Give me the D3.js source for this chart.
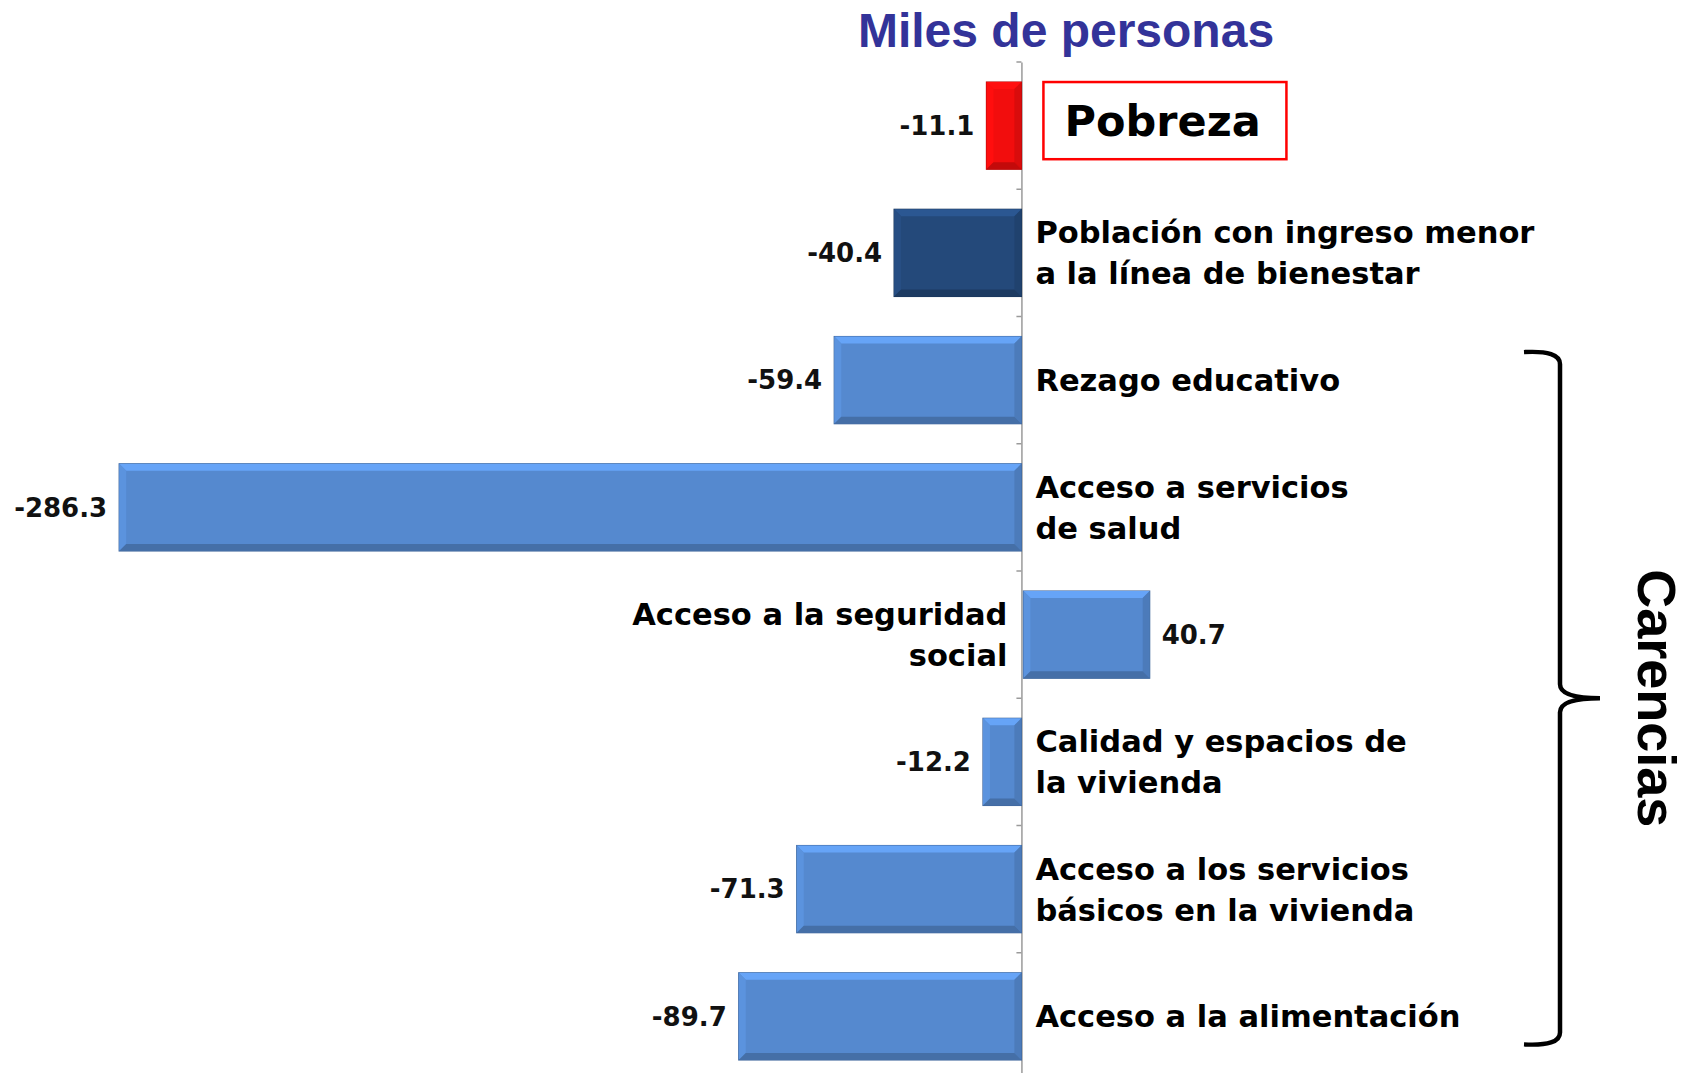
<!DOCTYPE html>
<html>
<head>
<meta charset="utf-8">
<script src="https://cdn.jsdelivr.net/npm/d3@7"></script>
<style>
  body { margin: 0; background: #fff; }
  svg text { font-family: "DejaVu Sans", Verdana, sans-serif; font-weight: bold; }
</style>
</head>
<body>
<svg id="chart"></svg>
<script>
var w = 1689, h = 1073;

// Data (miles de personas)
var categories = ['pobreza', 'bienestar', 'educativo', 'salud', 'seguridad', 'calidad', 'basicos', 'alimentacion'];
var values = [-11.1, -40.4, -59.4, -286.3, 40.7, -12.2, -71.3, -89.7];
var labelLines = [
  ['Pobreza'],
  ['Población con ingreso menor', 'a la línea de bienestar'],
  ['Rezago educativo'],
  ['Acceso a servicios', 'de salud'],
  ['Acceso a  la seguridad', 'social'],
  ['Calidad y espacios de', 'la vivienda'],
  ['Acceso a los servicios', 'básicos en la vivienda'],
  ['Acceso a la alimentación']
];
var barColors = ['#f20d0d', '#24497a', '#5589cf', '#5589cf', '#5589cf', '#5589cf', '#5589cf', '#5589cf'];

var rows = categories.map(function(c, i){
  return {key: c, value: values[i], lines: labelLines[i], color: barColors[i]};
});

var fmt = d3.formatLocale({decimal: '.', thousands: ',', grouping: [3], currency: ['$', ''], minus: '-'}).format('.1f');

var x = d3.scaleLinear().domain([-300, 50]).range([76, 1179]);
var y = d3.scaleBand().domain(categories).range([62, 1080]).paddingInner(0.315).paddingOuter(0.1575);

var svg = d3.select('#chart').attr('width', w).attr('height', h);

// Title
svg.append('text')
  .attr('x', 1066).attr('y', 47)
  .attr('text-anchor', 'middle')
  .style('font-family', '"Liberation Sans", Arial, sans-serif')
  .style('font-size', '48px')
  .attr('fill', '#333399')
  .text('Miles de personas');

// Vertical axis at zero with ticks between categories
var axis = svg.append('g')
  .attr('transform', 'translate(' + x(0) + ',0)')
  .call(d3.axisLeft(y).tickSize(0).tickFormat(''));
axis.select('.domain').attr('stroke', '#9a9a9a').attr('stroke-width', 1.5);

var bounds = categories.map(function(c){ return y(c) - y.step() * y.paddingInner() / 2; });
svg.selectAll('line.tick-b')
  .data(bounds)
  .enter()
  .append('line')
  .attr('class', 'tick-b')
  .attr('x1', x(0) - 5).attr('x2', x(0))
  .attr('y1', function(d){return d;}).attr('y2', function(d){return d;})
  .attr('stroke', '#9a9a9a').attr('stroke-width', 1.5);

// Bars with a bevel look
var bev = 7;
var bars = svg.selectAll('g.bar')
  .data(rows)
  .enter()
  .append('g')
  .attr('class', 'bar')
  .attr('transform', function(d){
    var x0 = d.value < 0 ? x(d.value) : x(0) + 2;
    return 'translate(' + x0 + ',' + y(d.key) + ')';
  });

bars.each(function(d){
  var g = d3.select(this);
  var bw = Math.abs(x(d.value) - x(0)) - (d.value < 0 ? 0 : 2);
  var bh = y.bandwidth();
  var c = d3.color(d.color);
  g.append('rect').attr('width', bw).attr('height', bh).attr('fill', d.color)
    .attr('stroke', c.darker(0.8)).attr('stroke-width', 1.2);
  var b = Math.min(bev, bw / 2);
  var polys = [
    {pts: [[0,0],[bw,0],[bw-b,b],[b,b]], col: c.brighter(0.5)},
    {pts: [[0,0],[b,b],[b,bh-b],[0,bh]], col: c.brighter(0.2)},
    {pts: [[bw,0],[bw,bh],[bw-b,bh-b],[bw-b,b]], col: c.darker(0.3)},
    {pts: [[0,bh],[b,bh-b],[bw-b,bh-b],[bw,bh]], col: c.darker(0.6)}
  ];
  g.selectAll('polygon')
    .data(polys)
    .enter()
    .append('polygon')
    .attr('points', function(p){ return p.pts.map(function(q){return q.join(',');}).join(' '); })
    .attr('fill', function(p){ return p.col; });
});

// Value labels
svg.selectAll('text.val')
  .data(rows)
  .enter()
  .append('text')
  .attr('class', 'val')
  .attr('x', function(d){ return d.value < 0 ? x(d.value) - 12 : x(d.value) + 12; })
  .attr('y', function(d){ return y(d.key) + y.bandwidth() / 2; })
  .attr('dy', '0.36em')
  .attr('text-anchor', function(d){ return d.value < 0 ? 'end' : 'start'; })
  .style('font-size', '26px')
  .attr('fill', '#111')
  .text(function(d){ return fmt(d.value); });

// Category labels (Pobreza is boxed separately)
var lineH = 41;
var cats = svg.selectAll('text.cat')
  .data(rows.slice(1))
  .enter()
  .append('text')
  .attr('class', 'cat')
  .attr('text-anchor', function(d){ return d.value < 0 ? 'start' : 'end'; })
  .style('font-size', '30.5px')
  .attr('fill', '#000');

cats.selectAll('tspan')
  .data(function(d){
    return d.lines.map(function(t, i){ return {t: t, i: i, n: d.lines.length, d: d}; });
  })
  .enter()
  .append('tspan')
  .attr('x', function(l){ return l.d.value < 0 ? x(0) + 14 : x(0) - 14; })
  .attr('y', function(l){
    var cy = y(l.d.key) + y.bandwidth() / 2;
    return cy + (l.i - (l.n - 1) / 2) * lineH;
  })
  .attr('dy', '0.36em')
  .text(function(l){ return l.t; });

// Pobreza box
var p = rows[0];
svg.append('rect')
  .attr('x', x(0) + 22).attr('y', y(p.key))
  .attr('width', 243).attr('height', y.bandwidth() - 10)
  .attr('fill', 'none').attr('stroke', '#f00').attr('stroke-width', 2.5);
svg.append('text')
  .attr('x', x(0) + 43).attr('y', y(p.key) + y.bandwidth() / 2 - 5)
  .attr('dy', '0.36em')
  .style('font-size', '43px')
  .attr('fill', '#000')
  .text(p.lines[0]);

// Brace grouping the carencias
var braceTop = y('educativo') + y.bandwidth() / 2 - 28;
var braceBot = y('alimentacion') + y.bandwidth() / 2 + 28;
var braceMid = (braceTop + braceBot) / 2;
var bx = 1560;
var brace = d3.path();
brace.moveTo(bx - 36, braceTop);
brace.quadraticCurveTo(bx, braceTop - 2, bx, braceTop + 12);
brace.lineTo(bx, braceMid - 14);
brace.quadraticCurveTo(bx, braceMid, bx + 40, braceMid);
brace.quadraticCurveTo(bx, braceMid, bx, braceMid + 14);
brace.lineTo(bx, braceBot - 12);
brace.quadraticCurveTo(bx, braceBot + 2, bx - 36, braceBot);
svg.append('path')
  .attr('d', brace.toString())
  .attr('fill', 'none').attr('stroke', '#000').attr('stroke-width', 4.5);

svg.append('text')
  .attr('transform', 'translate(1657,' + braceMid + ') rotate(90)')
  .attr('text-anchor', 'middle')
  .attr('dy', '0.36em')
  .style('font-family', '"Liberation Sans", Arial, sans-serif')
  .style('font-size', '54px')
  .attr('fill', '#000')
  .text('Carencias');
</script>
</body>
</html>
